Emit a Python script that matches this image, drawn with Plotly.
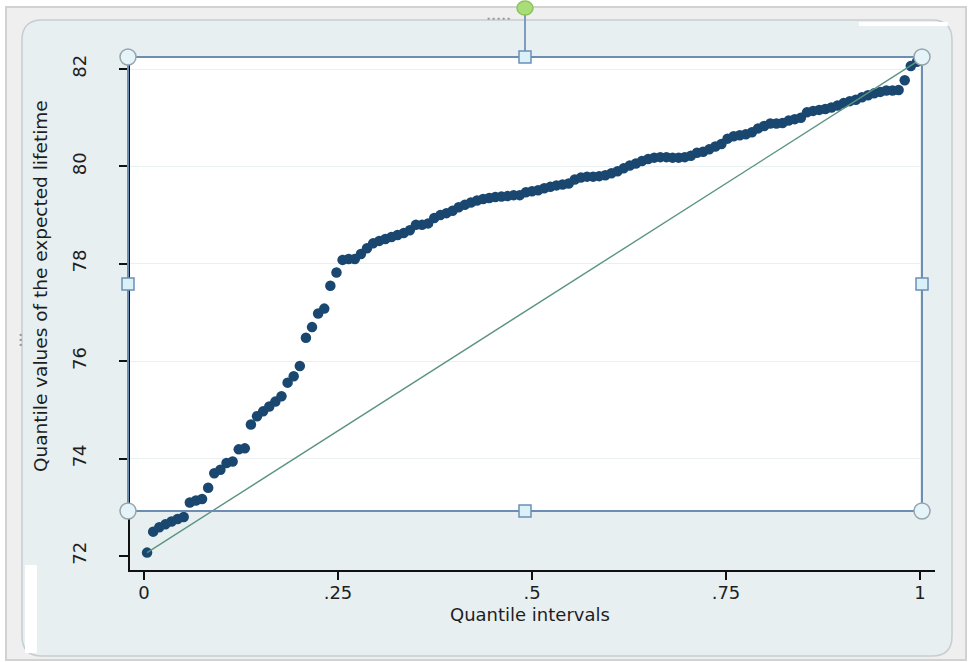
import plotly.graph_objects as go

# ---- data (sorted quantile values) ----
lifetime_quantiles = [
    72.07, 72.50, 72.59, 72.65, 72.71, 72.76, 72.80, 73.10, 73.14, 73.17,
    73.40, 73.70, 73.77, 73.91, 73.94, 74.19, 74.21, 74.70, 74.87, 74.97,
    75.07, 75.17, 75.28, 75.56, 75.69, 75.90, 76.48, 76.70, 76.98, 77.08,
    77.55, 77.82, 78.08, 78.10, 78.10, 78.20, 78.32, 78.42, 78.47, 78.51,
    78.55, 78.59, 78.63, 78.69, 78.80, 78.80, 78.83, 78.94, 79.00, 79.04,
    79.09, 79.16, 79.21, 79.26, 79.30, 79.33, 79.35, 79.37, 79.38, 79.39,
    79.41, 79.41, 79.47, 79.49, 79.51, 79.55, 79.58, 79.61, 79.63, 79.65,
    79.73, 79.77, 79.79, 79.79, 79.80, 79.82, 79.86, 79.90, 79.96, 80.02,
    80.06, 80.11, 80.15, 80.18, 80.19, 80.19, 80.18, 80.18, 80.19, 80.22,
    80.28, 80.30, 80.35, 80.41, 80.46, 80.57, 80.62, 80.64, 80.66, 80.70,
    80.78, 80.83, 80.88, 80.88, 80.89, 80.94, 80.97, 81.00, 81.11, 81.14,
    81.16, 81.18, 81.21, 81.25, 81.30, 81.34, 81.37, 81.42, 81.46, 81.50,
    81.53, 81.56, 81.56, 81.57, 81.77, 82.06, 82.15,
]
n_obs = len(lifetime_quantiles)
# plotting positions of a quantile plot: (i - 0.5) / n
quantile_fractions = [(i + 0.5) / n_obs for i in range(n_obs)]

x_tick_values = [0, 0.25, 0.5, 0.75, 1]
x_tick_labels = ["0", ".25", ".5", ".75", "1"]
y_tick_values = [72, 74, 76, 78, 80, 82]
y_tick_labels = ["72", "74", "76", "78", "80", "82"]

# ---- geometry ----
W, H = 969, 662
L, R, T, B = 130, 935, 57, 570
PW, PH = R - L, B - T


def px(x):
    return (x - L) / PW


def py(y):
    return (B - y) / PH


FONT = "DejaVu Sans"
TXT = "#1e1e1e"
NAVY = "#1a476f"
REF = "#5b9480"

fig = go.Figure()
fig.add_trace(go.Scatter(
    x=quantile_fractions, y=lifetime_quantiles, mode="markers",
    marker=dict(color=NAVY, size=10.5, line=dict(width=0)),
    showlegend=False, hoverinfo="skip"))
fig.add_trace(go.Scatter(
    x=[quantile_fractions[0], quantile_fractions[-1]],
    y=[lifetime_quantiles[0], lifetime_quantiles[-1]],
    mode="lines", line=dict(color=REF, width=1.4),
    showlegend=False, hoverinfo="skip"))

shapes = []


def rect(x0, y0, x1, y1, fill=None, line=None, lw=0, layer="below"):
    shapes.append(dict(type="rect", xref="paper", yref="paper",
                       x0=px(x0), x1=px(x1), y0=py(y1), y1=py(y0),
                       fillcolor=fill if fill else "rgba(0,0,0,0)",
                       line=dict(color=line if line else "rgba(0,0,0,0)", width=lw),
                       layer=layer))


def circle(cx, cy, rx, ry, fill, line, lw=1.5, layer="above"):
    shapes.append(dict(type="circle", xref="paper", yref="paper",
                       x0=px(cx - rx), x1=px(cx + rx), y0=py(cy + ry), y1=py(cy - ry),
                       fillcolor=fill, line=dict(color=line, width=lw), layer=layer))


def seg(x0, y0, x1, y1, color, lw, layer="above"):
    shapes.append(dict(type="line", xref="paper", yref="paper",
                       x0=px(x0), x1=px(x1), y0=py(y0), y1=py(y1),
                       line=dict(color=color, width=lw), layer=layer))


# outer frame
rect(6, 7, 966, 660, fill="#efefef", line="#d2d2d2", lw=2)
# rounded graph panel
x0, y0, x1, y1, r = 22, 20, 952, 656, 20
path = (f"M {px(x0 + r)},{py(y0)} L {px(x1 - r)},{py(y0)} "
        f"Q {px(x1)},{py(y0)} {px(x1)},{py(y0 + r)} "
        f"L {px(x1)},{py(y1 - r)} Q {px(x1)},{py(y1)} {px(x1 - r)},{py(y1)} "
        f"L {px(x0 + r)},{py(y1)} Q {px(x0)},{py(y1)} {px(x0)},{py(y1 - r)} "
        f"L {px(x0)},{py(y0 + r)} Q {px(x0)},{py(y0)} {px(x0 + r)},{py(y0)} Z")
shapes.append(dict(type="path", xref="paper", yref="paper", path=path,
                   fillcolor="#e8eff1", line=dict(color="#c6cdd1", width=1.5),
                   layer="below"))
# white plot region / artifacts
rect(130, 57, 920, 511, fill="#ffffff")
rect(25, 565, 37, 653, fill="#ffffff")
rect(859, 22, 948, 26, fill="#ffffff")

# selection overlay
rect(128, 57, 922, 511, line="#6d8db3", lw=2, layer="above")
seg(525, 57, 525, 14, "#7d9cc0", 2)
for (cx, cy) in [(525, 57), (525, 511), (128, 284), (922, 284)]:
    rect(cx - 6, cy - 6, cx + 6, cy + 6, fill="#d9f1f7", line="#6c8fb8", lw=1.5, layer="above")
for (cx, cy) in [(128, 57), (922, 57), (128, 511), (922, 511)]:
    circle(cx, cy, 8, 8, "#e4f4f8", "#97a4ad")
circle(525, 8, 8, 7, "#a8dd78", "#8bc35c")

annotations = [
    dict(text="Quantile intervals", x=px(530), y=py(614), xref="paper", yref="paper",
         showarrow=False, font=dict(family=FONT, size=18, color=TXT),
         xanchor="center", yanchor="middle"),
    dict(text="Quantile values of the expected lifetime", x=px(40), y=py(286),
         xref="paper", yref="paper", textangle=-90, showarrow=False,
         font=dict(family=FONT, size=18.5, color=TXT), xanchor="center", yanchor="middle"),
    dict(text="∙∙∙∙∙", x=px(498), y=py(12), xref="paper", yref="paper", showarrow=False,
         font=dict(family=FONT, size=8, color="#9a9a9a")),
    dict(text="∙∙∙", x=px(13), y=py(340), xref="paper", yref="paper", showarrow=False,
         textangle=-90, font=dict(family=FONT, size=8, color="#9a9a9a")),
]

fig.update_layout(
    width=W, height=H,
    margin=dict(l=L, r=W - R, t=T, b=H - B, pad=0),
    paper_bgcolor="#ffffff", plot_bgcolor="rgba(0,0,0,0)",
    shapes=shapes, annotations=annotations,
    font=dict(family=FONT, size=18, color=TXT),
    xaxis=dict(range=[(L - 144) / 776, (R - 144) / 776],
               tickvals=x_tick_values, ticktext=x_tick_labels,
               showgrid=False, zeroline=False, showline=True, linecolor="#111111", linewidth=2,
               ticks="outside", ticklen=8, tickwidth=1.5, tickcolor="#111111",
               ticklabelstandoff=-3,
               tickfont=dict(family=FONT, size=18, color=TXT)),
    yaxis=dict(range=[72 - (B - 556) / 48.7, 72 + (556 - T) / 48.7],
               tickvals=y_tick_values, ticktext=y_tick_labels, tickangle=-90,
               showgrid=True, gridcolor="#e8f0f2", gridwidth=1,
               zeroline=False, showline=True, linecolor="#111111", linewidth=2,
               ticks="outside", ticklen=9, tickwidth=1.5, tickcolor="#111111",
               ticklabelstandoff=26,
               tickfont=dict(family=FONT, size=18, color=TXT)),
)

fig.write_html("out.html", config={"displayModeBar": False},
               post_script="document.body.style.margin='0px';")
